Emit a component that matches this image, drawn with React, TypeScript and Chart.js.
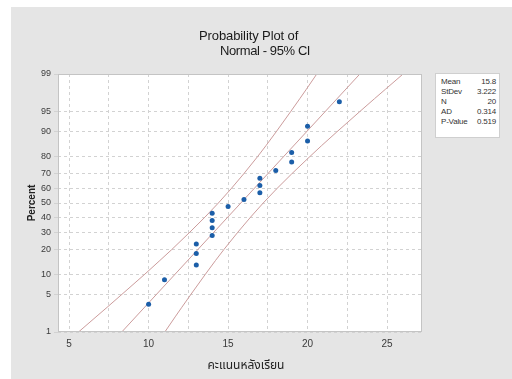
import React, { useEffect, useRef } from 'react';
import { Chart, registerables, LinearScale } from 'chart.js';

// ---- data ----
const scores = [10, 11, 13, 13, 13, 14, 14, 14, 14, 15, 16, 17, 17, 17, 18, 19, 19, 20, 20, 22];
const percents = [3.4, 8.3, 13.2, 18.1, 23.0, 27.9, 32.8, 37.7, 42.6, 47.5, 52.5, 57.4, 62.3, 67.2, 72.1, 77.0, 81.9, 86.8, 91.7, 96.6];

const fitPercents = [1, 50, 99];
const fitScores = [8.31, 15.8, 23.29];

const bandPercents = [1, 2, 3, 5, 10, 15, 20, 30, 40, 50, 60, 70, 80, 85, 90, 95, 97, 98, 99];
const leftBand = [5.59, 6.69, 7.39, 8.33, 9.77, 10.71, 11.45, 12.6, 13.55, 14.39, 15.18, 15.98, 16.87, 17.39, 18.02, 18.93, 19.51, 19.93, 20.58];
const rightBand = [11.02, 11.67, 12.09, 12.67, 13.58, 14.21, 14.73, 15.62, 16.42, 17.21, 18.05, 19.0, 20.16, 20.89, 21.84, 23.27, 24.21, 24.91, 26.01];

const yTicks = [1, 5, 10, 20, 30, 40, 50, 60, 70, 80, 90, 95, 99];
const xTicks = [5, 7.5, 10, 12.5, 15, 17.5, 20, 22.5, 25];
const xLabelStep = 5;

const titleLines = ['Probability Plot of', 'Normal - 95% CI'];
const xTitle = 'คะแนนหลังเรียน';
const yTitle = 'Percent';
const statLabels = ['Mean', 'StDev', 'N', 'AD', 'P-Value'];
const statValues = ['15.8', '3.222', '20', '0.314', '0.519'];

// ---- styling ----
const FONT = '"Liberation Sans", Arial, sans-serif';
const THAI_FONT = '"Noto Sans Thai", "Noto Sans Thai UI", Loma, Garuda, Sarabun, "Liberation Sans", sans-serif';
const POINT = '#1b5ea8';
const LINE = '#cc9c9c';
const GRID = '#d2d2d2';
const PANEL = '#e5e5e5';

// inverse normal CDF (Acklam) for the probability axis
function probit(p: number): number {
  p = Math.min(Math.max(p, 1e-9), 1 - 1e-9);
  const a = [-39.69683028665376, 220.9460984245205, -275.9285104469687, 138.357751867269, -30.66479806614716, 2.506628277459239];
  const b = [-54.47609879822406, 161.5858368580409, -155.6989798598866, 66.80131188771972, -13.28068155288572];
  const c = [-0.007784894002430293, -0.3223964580411365, -2.400758277161838, -2.549732539343734, 4.374664141464968, 2.938163982698783];
  const d = [0.007784695709041462, 0.3224671290700398, 2.445134137142996, 3.754408661907416];
  const pl = 0.02425;
  if (p < pl) {
    const q = Math.sqrt(-2 * Math.log(p));
    return (((((c[0] * q + c[1]) * q + c[2]) * q + c[3]) * q + c[4]) * q + c[5]) / ((((d[0] * q + d[1]) * q + d[2]) * q + d[3]) * q + 1);
  }
  if (p > 1 - pl) {
    const q = Math.sqrt(-2 * Math.log(1 - p));
    return -(((((c[0] * q + c[1]) * q + c[2]) * q + c[3]) * q + c[4]) * q + c[5]) / ((((d[0] * q + d[1]) * q + d[2]) * q + d[3]) * q + 1);
  }
  const q = p - 0.5;
  const r = q * q;
  return ((((((a[0] * r + a[1]) * r + a[2]) * r + a[3]) * r + a[4]) * r + a[5]) * q) / (((((b[0] * r + b[1]) * r + b[2]) * r + b[3]) * r + b[4]) * r + 1);
}

function normCdf(z: number): number {
  const t = 1 / (1 + 0.3275911 * Math.abs(z) / Math.SQRT2);
  const y = 1 - (((((1.061405429 * t - 1.453152027) * t) + 1.421413741) * t - 0.284496736) * t + 0.254829592) * t * Math.exp(-(z * z) / 2);
  return z >= 0 ? (1 + y) / 2 : (1 - y) / 2;
}

class ProbabilityScale extends LinearScale {
  static id = 'probability';
  static defaults = {};
  getPixelForValue(value: number) {
    const lo = probit((this as any).min / 100);
    const hi = probit((this as any).max / 100);
    return (this as any).getPixelForDecimal((probit(value / 100) - lo) / (hi - lo));
  }
  getValueForPixel(pixel: number) {
    const lo = probit((this as any).min / 100);
    const hi = probit((this as any).max / 100);
    const z = lo + (this as any).getDecimalForPixel(pixel) * (hi - lo);
    return 100 * normCdf(z);
  }
}

Chart.register(...registerables, ProbabilityScale as any);

const areaPlugin = {
  id: 'plotArea',
  beforeDraw(chart: any) {
    const { ctx, chartArea: a } = chart;
    ctx.save();
    ctx.fillStyle = '#ffffff';
    ctx.fillRect(a.left, a.top, a.right - a.left, a.bottom - a.top);
    ctx.restore();
  },
  afterDraw(chart: any) {
    const { ctx, chartArea: a } = chart;
    ctx.save();
    ctx.strokeStyle = '#c4c4c4';
    ctx.lineWidth = 1;
    ctx.strokeRect(Math.round(a.left) + 0.5, Math.round(a.top) + 0.5, Math.round(a.right - a.left) - 1, Math.round(a.bottom - a.top) - 1);
    ctx.restore();
  },
};

export default function App() {
  const ref = useRef<HTMLCanvasElement>(null);

  useEffect(() => {
    const canvas = ref.current;
    if (!canvas) return;
    const lineSet = (label: string, xs: number[], ps: number[]) => ({
      label,
      data: xs.map((x, i) => ({ x, y: ps[i] })),
      showLine: true,
      pointRadius: 0,
      borderColor: LINE,
      borderWidth: 1,
      backgroundColor: LINE,
      order: 1,
    });
    const chart = new Chart(canvas, {
      type: 'scatter',
      data: {
        datasets: [
          {
            label: 'Data',
            data: scores.map((x, i) => ({ x, y: percents[i] })),
            backgroundColor: POINT,
            borderColor: POINT,
            borderWidth: 0,
            pointRadius: 2.5,
            order: 0,
          },
          lineSet('Fit', fitScores, fitPercents),
          lineSet('Upper CI', leftBand, bandPercents),
          lineSet('Lower CI', rightBand, bandPercents),
        ],
      } as any,
      options: {
        responsive: false,
        animation: false,
        events: [],
        layout: { padding: { left: 0, right: 90, top: 74, bottom: 0 } },
        plugins: {
          legend: { display: false },
          tooltip: { enabled: false },
          title: { display: false },
        },
        scales: {
          x: {
            type: 'linear',
            min: 4.3,
            max: 27.2,
            afterBuildTicks: (axis: any) => {
              axis.ticks = xTicks.map((v) => ({ value: v }));
            },
            afterFit: (axis: any) => {
              axis.height = 47;
            },
            ticks: {
              autoSkip: false,
              maxRotation: 0,
              padding: 6,
              color: '#3a3a3a',
              font: { family: FONT, size: 10 },
              callback: (v: any) => (Number(v) % xLabelStep === 0 ? String(v) : ''),
            },
            grid: { color: GRID, drawTicks: false },
            border: { display: false, dash: [3, 3] },
          },
          y: {
            type: 'probability',
            min: 1,
            max: 99,
            bounds: 'data',
            afterBuildTicks: (axis: any) => {
              axis.ticks = yTicks.map((v) => ({ value: v }));
            },
            afterFit: (axis: any) => {
              axis.width = 58;
            },
            ticks: {
              autoSkip: false,
              padding: 3,
              color: '#3a3a3a',
              font: { family: FONT, size: 9 },
              callback: (v: any) => String(v),
            },
            grid: { color: GRID, tickLength: 4, tickColor: GRID, tickBorderDash: [] },
            border: { display: false, dash: [3, 3] },
            title: {
              display: true,
              text: yTitle,
              color: '#222',
              font: { family: FONT, size: 10, weight: 'bold' },
              padding: { top: 26, bottom: 0 },
            },
          },
        } as any,
      },
      plugins: [areaPlugin],
    });
    return () => chart.destroy();
  }, []);

  return (
    <div style={{ position: 'absolute', left: 0, top: 0, width: 512, height: 379, background: '#fff', overflow: 'hidden' }}>
      <div style={{ position: 'absolute', left: 11, top: 7, right: 0, bottom: 0, background: PANEL }} />
      <canvas ref={ref} width={512} height={379} style={{ position: 'absolute', left: 0, top: 0, width: 512, height: 379 }} />
      <div style={{ position: 'absolute', left: 199, top: 28, fontFamily: FONT, fontSize: 13, lineHeight: '15px', color: '#1a1a1a', whiteSpace: 'nowrap', letterSpacing: '-0.1px' }}>
        {titleLines[0]}
      </div>
      <div style={{ position: 'absolute', left: 220, top: 43, fontFamily: FONT, fontSize: 13, lineHeight: '15px', color: '#1a1a1a', whiteSpace: 'nowrap', letterSpacing: '-0.4px' }}>
        {titleLines[1]}
      </div>
      <div style={{ position: 'absolute', left: 146, width: 200, top: 356, textAlign: 'center', fontFamily: THAI_FONT, fontSize: 12, lineHeight: '18px', color: '#222', whiteSpace: 'nowrap' }}>
        {xTitle}
      </div>
      <div style={{ position: 'absolute', left: 435, top: 73, width: 65, height: 65, boxSizing: 'border-box', background: '#fff', border: '1px solid #cfcfcf', padding: '3px 3px 0 5px', fontFamily: FONT, fontSize: 8, color: '#333' }}>
        {statLabels.map((l, i) => (
          <div key={l} style={{ display: 'flex', justifyContent: 'space-between', height: 10, lineHeight: '10px', letterSpacing: '-0.2px' }}>
            <span>{l}</span>
            <span>{statValues[i]}</span>
          </div>
        ))}
      </div>
    </div>
  );
}
